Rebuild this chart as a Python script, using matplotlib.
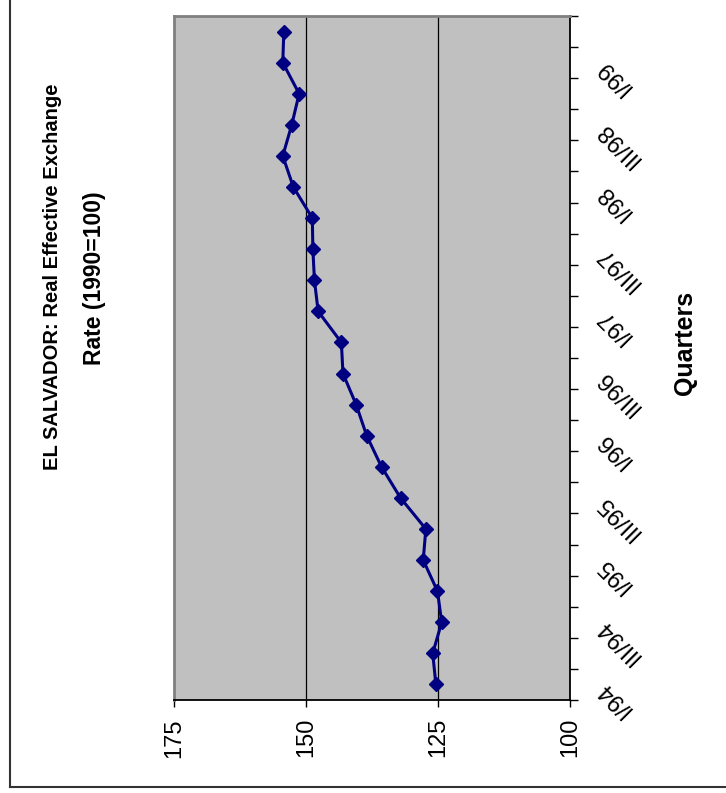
import matplotlib
matplotlib.use("Agg")
import matplotlib.pyplot as plt
from matplotlib import font_manager, transforms
from matplotlib.lines import Line2D

# quarterly real effective exchange rate, 1990=100
quarters = [
    "I/94", "II/94", "III/94", "IV/94",
    "I/95", "II/95", "III/95", "IV/95",
    "I/96", "II/96", "III/96", "IV/96",
    "I/97", "II/97", "III/97", "IV/97",
    "I/98", "II/98", "III/98", "IV/98",
    "I/99", "II/99",
]
reer = [
    125.4, 126.0, 124.3, 125.1,
    127.8, 127.3, 132.1, 135.7,
    138.5, 140.5, 143.0, 143.3,
    147.7, 148.4, 148.7, 148.8,
    152.4, 154.4, 152.7, 151.3,
    154.4, 154.2,
]
value_ticks = [175, 150, 125, 100]
grid_values = [150, 125]

W, H = 726, 793

installed = {f.name for f in font_manager.fontManager.ttflist}
BASE = "Liberation Sans" if "Liberation Sans" in installed else "DejaVu Sans"


def fx(px):
    return px / W


def fy(py):
    return 1 - py / H


fig = plt.figure(figsize=(W / 100, H / 100), dpi=100)
ax = fig.add_axes([fx(174), fy(700), fx(570 - 174), (700 - 16) / H])
ax.set_facecolor("#c0c0c0")

n = len(reer)
pos = list(range(n))
ax.plot(reer, pos, color="#000080", linewidth=2.2, marker="D", markersize=7.6,
        markerfacecolor="#000080", markeredgecolor="#000080", zorder=3)

for g in grid_values:
    ax.axvline(g, color="black", linewidth=0.9, zorder=1)

ax.set_xlim(175, 100)
ax.set_ylim(-0.5, n - 0.5)

# value axis (bottom of picture)
ax.set_xticks(value_ticks)
ax.set_xticklabels([str(v) for v in value_ticks], rotation=90, fontsize=17, family=BASE)
ax.tick_params(axis="x", direction="out", length=5, width=1, pad=8, colors="black")

# category axis on the right, ticks between categories
ax.yaxis.tick_right()
ax.set_yticks([i - 0.5 for i in range(n + 1)])
ax.set_yticklabels([])
ax.tick_params(axis="y", direction="out", length=6, width=1, colors="black")

for side in ["left", "top"]:
    ax.spines[side].set_color("#808080")
    ax.spines[side].set_linewidth(2)
ax.spines["right"].set_color("black")
ax.spines["right"].set_linewidth(1.3)
ax.spines["bottom"].set_color("black")
ax.spines["bottom"].set_linewidth(1.3)

trans = transforms.blended_transform_factory(ax.transAxes, ax.transData)
for i in range(0, n, 2):
    ax.text(1 + 30 / 396, i, quarters[i], transform=trans, rotation=135,
            rotation_mode="anchor", ha="right", va="center", fontsize=17, family=BASE,
            clip_on=False)

fig.text(fx(53), fy(277), "EL SALVADOR: Real Effective Exchange", rotation=90,
         ha="center", va="center", fontsize=14.5, fontweight="bold", family=BASE)
fig.text(fx(94), fy(278), "Rate (1990=100)", rotation=90,
         ha="center", va="center", fontsize=16.5, fontweight="bold", family=BASE)
fig.text(fx(685), fy(343), "Quarters", rotation=90, ha="center", va="center",
         fontsize=18, fontweight="bold", family=BASE)

# outer chart border (left and bottom edges are inside the picture)
fig.add_artist(Line2D([fx(9.5), fx(9.5)], [fy(787), 1.0], color="#333333", linewidth=1.5))
fig.add_artist(Line2D([fx(9.5), 1.0], [fy(787), fy(787)], color="#333333", linewidth=1.5))

fig.savefig("out.png", dpi=100)
plt.close(fig)
